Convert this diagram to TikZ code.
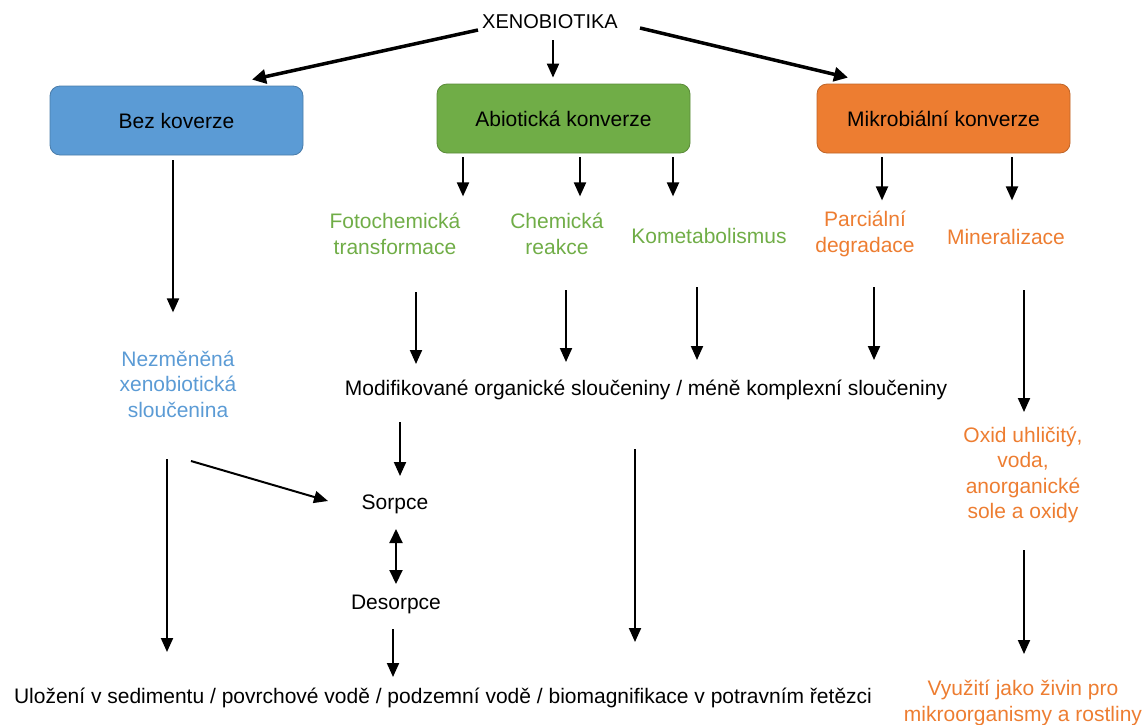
\documentclass[tikz,border=0pt]{standalone}
\usepackage{fontspec}
\setmainfont{Liberation Sans}
\usetikzlibrary{arrows.meta}
\definecolor{cblue}{HTML}{5B9BD5}
\definecolor{cgreen}{HTML}{70AD47}
\definecolor{corange}{HTML}{ED7D31}
\tikzset{
  txt/.style={inner sep=0pt, align=center, font=\fontsize{21}{25.5}\selectfont},
  box/.style={txt, draw=#1!80!black, fill=#1, rounded corners=10pt, minimum width=253pt, minimum height=69pt, line width=0.8pt},
  arr/.style={line width=2pt, -{Triangle[length=14pt,width=12pt]}},
  arrthick/.style={line width=3.5pt, -{Triangle[length=14pt,width=14pt]}},
  darr/.style={line width=2pt, {Triangle[length=14pt,width=13pt]}-{Triangle[length=14pt,width=13pt]}},
}
\begin{document}
\begin{tikzpicture}[x=1pt,y=-1pt]
\useasboundingbox (0,0) rectangle (1143,724);
\node[txt, font=\fontsize{20}{24}\selectfont] (xeno) at (550,22) {XENOBIOTIKA};
\node[box=cblue] (bez) at (176.5,120.5) {Bez koverze};
\node[box=cgreen] (abio) at (563.5,118.5) {Abiotická konverze};
\node[box=corange] (mikro) at (943.5,118.5) {Mikrobiální konverze};
\node[txt, text=cgreen] (foto) at (395,234) {Fotochemická\\transformace};
\node[txt, text=cgreen] (chem) at (557,234) {Chemická\\reakce};
\node[txt, text=cgreen] (kome) at (709,236) {Kometabolismus};
\node[txt, text=corange] (parc) at (865,234) {Parciální\\degradace};
\node[txt, text=corange] (mine) at (1006,237) {Mineralizace};
\node[txt, text=cblue] (nezm) at (178,384) {Nezměněná\\xenobiotická\\sloučenina};
\node[txt] (modif) at (646,390) {Modifikované organické sloučeniny / méně komplexní sloučeniny};
\node[txt, text=corange] (oxid) at (1023,475) {Oxid uhličitý,\\voda,\\anorganické\\sole a oxidy};
\node[txt, text=corange] (vyuz) at (1023,703) {Využití jako živin pro\\mikroorganismy a rostliny};
\node[txt] (sorp) at (395,504) {Sorpce};
\node[txt] (deso) at (396,604) {Desorpce};
\node[txt] (ulo) at (443,698) {Uložení v sedimentu / povrchové vodě / podzemní vodě / biomagnifikace v potravním řetězci};

\draw[arrthick] ([xshift=-72pt,yshift=-8pt]xeno.center) -- ([xshift=75.5pt,yshift=6pt]bez.north);
\draw[arr] ([xshift=3pt,yshift=-18pt]xeno.center) -- ([xshift=-10.5pt,yshift=6pt]abio.north);
\draw[arrthick] ([xshift=90pt,yshift=-6pt]xeno.center) -- ([xshift=-95.5pt,yshift=6pt]mikro.north);

\draw[arr] ([xshift=-100.5pt,yshift=-4pt]abio.south) -- ++(0,39);
\draw[arr] ([xshift=16.5pt,yshift=-4pt]abio.south) -- ++(0,39);
\draw[arr] ([xshift=109.5pt,yshift=-4pt]abio.south) -- ++(0,39);
\draw[arr] ([xshift=-61.5pt,yshift=-4pt]mikro.south) -- ++(0,43);
\draw[arr] ([xshift=68.5pt,yshift=-4pt]mikro.south) -- ++(0,43);
\draw[arr] ([xshift=-3.5pt,yshift=-5pt]bez.south) -- ++(0,152);

\draw[arr] ([xshift=21pt,yshift=-58pt]foto.center) -- ++(0,72);
\draw[arr] ([xshift=9pt,yshift=-56pt]chem.center) -- ++(0,72);
\draw[arr] ([xshift=-12pt,yshift=-51pt]kome.center) -- ++(0,73);
\draw[arr] ([xshift=9pt,yshift=-53pt]parc.center) -- ++(0,73);
\draw[arr] ([xshift=18pt,yshift=-53pt]mine.center) -- ++(0,122);

\draw[arr] ([xshift=-11pt,yshift=-75pt]nezm.center) -- ++(0,193);
\draw[arr] ([xshift=13pt,yshift=-77pt]nezm.center) -- ++(137,40);
\draw[arr] ([xshift=-246pt,yshift=-32pt]modif.center) -- ++(0,54);
\draw[arr] ([xshift=-11pt,yshift=-59pt]modif.center) -- ++(0,193);
\draw[darr] ([xshift=1pt,yshift=-25pt]sorp.center) -- ++(0,55);
\draw[arr] ([xshift=-3pt,yshift=-25pt]deso.center) -- ++(0,48);
\draw[arr] ([xshift=1pt,yshift=-75pt]oxid.center) -- ++(0,104);
\end{tikzpicture}
\end{document}
